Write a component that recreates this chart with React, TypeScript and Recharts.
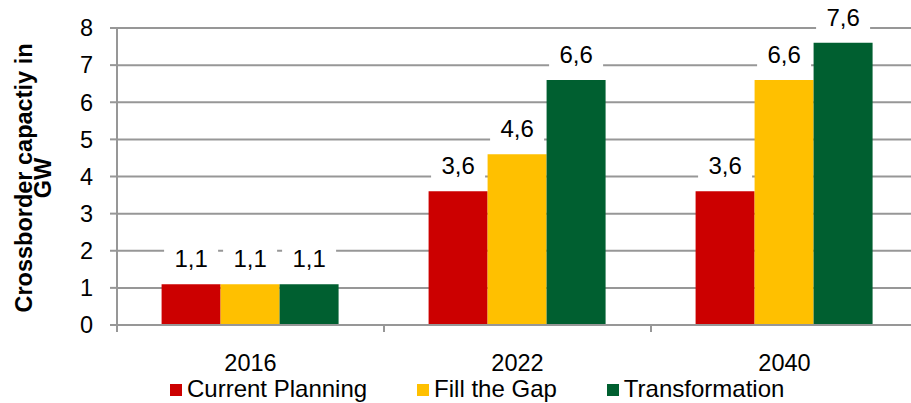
import { BarChart, Bar, XAxis, YAxis, CartesianGrid, Legend, LabelList } from 'recharts';

const categories = ['2016', '2022', '2040'];
const currentPlanning = [1.1, 3.6, 3.6];
const fillTheGap = [1.1, 4.6, 6.6];
const transformation = [1.1, 6.6, 7.6];
const yTicks = [0, 1, 2, 3, 4, 5, 6, 7, 8];

const data = categories.map((year, i) => ({
    year,
    current: currentPlanning[i],
    gap: fillTheGap[i],
    trans: transformation[i],
}));

const FONT = '"Liberation Sans", Arial, sans-serif';
const GRAY = '#979797';

const fmt = (v: number) => v.toFixed(1).replace('.', ',');

function BoxLabel(props: any) {
    const { x, y, width, value } = props;
    const cx = Number(x) + Number(width) / 2;
    const base = Number(y) - 17;
    return (
        <g>
            <rect x={cx - 27} y={base - 21} width={54} height={28} fill="#fff" />
            <text x={cx} y={base} textAnchor="middle" fontSize={24} fontFamily={FONT} fill="#000">
                {fmt(value)}
            </text>
        </g>
    );
}

function XTick(props: any) {
    const { x, y, payload, index } = props;
    const half = payload && payload.offset ? payload.offset : 133.5;
    return (
        <g>
            <line x1={x - half} x2={x - half} y1={y} y2={y + 7} stroke={GRAY} strokeWidth={2} />
            {index === categories.length - 1 && (
                <line x1={x + half} x2={x + half} y1={y} y2={y + 7} stroke={GRAY} strokeWidth={2} />
            )}
            <text x={x} y={y + 46} textAnchor="middle" fontSize={23.5} fontFamily={FONT} fill="#000">
                {payload.value}
            </text>
        </g>
    );
}

// axis title, two lines, rotated
function YTitle() {
    return (
        <text
            transform="translate(32, 178) rotate(-90)"
            textAnchor="middle"
            fontSize={23.5}
            fontWeight="bold"
            fontFamily={FONT}
            fill="#000"
        >
            <tspan x={0} dy={0}>Crossborder capactiy in</tspan>
            <tspan x={0} dy={19}>GW</tspan>
        </text>
    );
}

function LegendBox(props: any) {
    const payload = props.payload || [];
    return (
        <div style={{ height: 0, overflow: 'visible' }}>
            <ul style={{ display: 'flex', margin: 0, padding: 0, listStyle: 'none', fontFamily: FONT, fontSize: 24, lineHeight: '22px', whiteSpace: 'nowrap' }}>
                {payload.map((p: any) => (
                    <li key={p.value} style={{ display: 'flex', alignItems: 'center', marginRight: 50, color: '#000' }}>
                        <span style={{ width: 12, height: 12, background: p.color, marginRight: 5, marginTop: 2 }} />
                        {p.value}
                    </li>
                ))}
            </ul>
        </div>
    );
}

export default function App() {
    return (
        <div style={{ position: 'absolute', left: 0, top: 0, width: 911, height: 403, overflow: 'hidden', background: '#fff' }}>
            <BarChart
                width={930}
                height={403}
                data={data}
                margin={{ top: 28, right: 12, bottom: 0, left: 0 }}
                barCategoryGap="16.7%"
                barGap={0}
            >
                <CartesianGrid vertical={false} stroke={GRAY} strokeWidth={2} />
                <XAxis
                    dataKey="year"
                    height={78}
                    axisLine={{ stroke: GRAY, strokeWidth: 2 }}
                    tickLine={false}
                    tickSize={0}
                    tickMargin={0}
                    tick={<XTick />}
                    interval={0}
                />
                <YAxis
                    width={117}
                    domain={[0, 8]}
                    ticks={yTicks}
                    interval={0}
                    axisLine={{ stroke: GRAY, strokeWidth: 2 }}
                    tickLine={{ stroke: GRAY, strokeWidth: 2 }}
                    tickSize={7}
                    tickMargin={17}
                    tick={{ fontSize: 23.5, fontFamily: FONT, fill: '#000' }}
                    label={<YTitle />}
                />
                <Legend
                    content={<LegendBox />}
                    wrapperStyle={{ left: 170, top: 378, width: 'auto', bottom: 'auto' }}
                />
                <Bar dataKey="current" name="Current Planning" fill="#CC0000" isAnimationActive={false}>
                    <LabelList dataKey="current" content={<BoxLabel />} />
                </Bar>
                <Bar dataKey="gap" name="Fill the Gap" fill="#FFC000" isAnimationActive={false}>
                    <LabelList dataKey="gap" content={<BoxLabel />} />
                </Bar>
                <Bar dataKey="trans" name="Transformation" fill="#005F30" isAnimationActive={false}>
                    <LabelList dataKey="trans" content={<BoxLabel />} />
                </Bar>
            </BarChart>
        </div>
    );
}
